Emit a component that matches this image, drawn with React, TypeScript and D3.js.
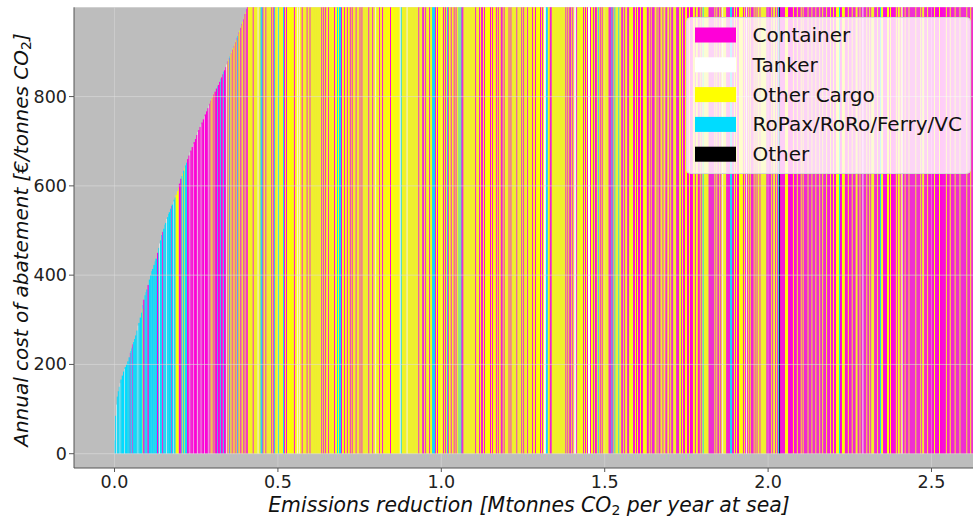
import React from "react";
import * as d3 from "d3";

// ---- Categories / legend ----
const shipCategories = ["Container", "Tanker", "Other Cargo", "RoPax/RoRo/Ferry/VC", "Other"];
const categoryCodes = ["M", "W", "Y", "C", "K"];
const categoryColors = ["#ff00d8", "#ffffff", "#ffff00", "#00dcff", "#000000"];

// ---- Axis ticks ----
const xTicks = [0, 0.5, 1.0, 1.5, 2.0, 2.5];
const yTicks = [0, 200, 400, 600, 800];

// ---- Rising part of the cost curve (bars under 1000 €/t) ----
// one letter per bar (ship type code), widths in kt CO2, costs in €/t CO2
const rampTypes =
  "CCWCCCWCCC" +
  "WCCCCMCCCM" +
  "CCCCWCCCYC" +
  "MCCCMCCCCC" +
  "CCMCWCCMCC" +
  "CWCCCCMCWC" +
  "CYYYMMCYCY" +
  "CCMMWMMWMM" +
  "MWMMWMMWMM" +
  "MWMYMYMYMY" +
  "MMCMMCMMCM" +
  "MWYMYMCYMY" +
  "MYMYMYMCYM" +
  "YMYMYMYMYM";

const rampWidthKt = [
  2, 3, 2, 3, 3, 3, 2, 4, 4, 3,
  2, 4, 4, 4, 4, 2, 2, 2, 2, 2,
  3, 3, 4, 4, 2, 4, 4, 3, 2, 2,
  4, 3, 2, 4, 4, 4, 4, 2, 4, 4,
  2, 5, 4, 3, 2, 4, 3, 3, 4, 2,
  4, 2, 3, 2, 4, 3, 2, 4, 2, 3,
  3, 4, 4, 2, 4, 4, 3, 2, 4, 2,
  3, 3, 4, 4, 2, 4, 4, 2, 4, 4,
  4, 2, 4, 4, 2, 4, 4, 2, 4, 4,
  4, 2, 2, 2, 2, 2, 2, 2, 2, 2,
  4, 4, 2, 4, 4, 2, 4, 3, 2, 4,
  3, 2, 2, 2, 2, 2, 2, 2, 2, 2,
  2, 3, 2, 2, 2, 3, 2, 2, 2, 2,
  3, 2, 2, 2, 3, 2, 2, 3, 2, 2,
];

const rampCost = [
  30, 85, 110, 128, 140, 150, 158, 166, 175, 184,
  190, 194, 200, 207, 216, 226, 230, 236, 240, 245,
  250, 257, 265, 276, 287, 293, 305, 316, 325, 333,
  345, 355, 362, 368, 378, 390, 400, 409, 414, 423,
  431, 437, 450, 461, 471, 478, 490, 497, 504, 513,
  517, 526, 530, 537, 541, 549, 555, 558, 565, 569,
  574, 580, 588, 596, 605, 616, 622, 628, 634, 641,
  646, 652, 660, 668, 675, 679, 687, 694, 698, 705,
  714, 721, 725, 732, 738, 742, 749, 756, 760, 767,
  774, 780, 784, 788, 791, 795, 798, 802, 805, 808,
  811, 818, 823, 826, 833, 840, 843, 850, 856, 859,
  866, 872, 875, 879, 883, 886, 890, 894, 897, 901,
  905, 909, 914, 918, 922, 926, 932, 936, 940, 944,
  948, 954, 959, 963, 968, 973, 980, 985, 990, 996,
];

// ---- Tail of the curve (costs above the 1000 €/t axis limit) ----
// one letter per ship, each ship ~3 kt CO2
const tailWidthKt = 3;
const tailTypes =
  // 0.40 - 0.86
  "MYYYYYMYYY" + "YWYYCCMYYM" + "YYYYYMYMCY" + "YYCYYYYCMY" + "MYYYYYYYMY" +
  "YWYWYYMYYY" + "YMYYMYYYYY" + "YYYYYYMYMY" + "MYYMYYYYYM" + "YYCYCCMYYM" +
  "YYMYYMYMYY" + "YMYYYMYMYY" + "YYYYMYYYMY" + "YWYYYMYYMY" + "YYYYYYMYYY" +
  // 0.86 - 1.30
  "YYYYYYWCYY" + "YYYWYYYYYY" + "YYYYYMYYYM" + "MYMYYYMYYC" + "CCMYMYYYYY" +
  "MYMYCMYYMY" + "YMYMYYCYCM" + "MYYYYYYYYY" + "YYYMYYYMYM" + "MYMYYYYYMY" +
  "MYYYMYMYYM" + "MYMYYYYMYM" + "YYYYYMYYYY" + "MYMYYYMYYY" + "YMYYMYYYYM" +
  // 1.30 - 1.75
  "YMYWWCCYYM" + "MYYYYYYYYY" + "YYYYYMYMYM" + "MYMYWWMYYY" + "YYYMYMYMWW" +
  "MYYMYMMYCY" + "MYMYYYYYYM" + "MMCMYCYYYC" + "YYMMYMYYMM" + "YYYYMMYMYM" +
  "MYMMYYYYMM" + "YMYMMMYYMY" + "MMYYMYYMMY" + "YMYMMYYYMM" + "MYYMYMMYYM" +
  // 1.75 - 2.20
  "MYMMMYYMYY" + "MMYMYCYYYY" + "YMMMMMMYMY" + "MMYMYWYYYM" + "MMMCCMMYMY" +
  "MMYYYYMYMW" + "MYMYMMMYMY" + "MYYMYYYYYY" + "MMMMMYMYYM" + "YMCKMMMMMY" +
  "YYMMMMMYMM" + "MYMMMYMYMM" + "MMYMMMYMMM" + "YMMMYMMYMM" + "MYMMMYMMYM" +
  // 2.20 - 2.65
  "MYYYCMMYYY" + "MMMYMMMYMM" + "MYYMMYMMWM" + "MMYMMYMYYY" + "MMMYMMCYYM" +
  "MMMYYMYMMM" + "MMYMYYMYWM" + "MYMMMYMMMM" + "MMYMMMMYMY" + "YMMMYMMMMM" +
  "MYMMMMYMMM" + "MMMYMMMYMM" + "MMYMMMMYMM" + "MMMMYMMMYM" + "MMMYMMMMMM";

// ---- Layout ----
const W = 973;
const H = 518;
const plotLeft = 74;
const plotRight = 973;
const plotTop = 7.3;
const plotBottom = 468;
const xDomain = [-0.124, 2.627];
const yDomain = [-32, 1000];

const colorOf = (code: string) => categoryColors[Math.max(0, categoryCodes.indexOf(code))];

export default function App() {
  const x = d3.scaleLinear().domain(xDomain).range([plotLeft, plotRight]);
  const y = d3.scaleLinear().domain(yDomain).range([plotBottom, plotTop]);

  type Bar = { x0: number; w: number; cost: number; type: string };
  const bars: Bar[] = [];
  let cum = 0;
  for (let i = 0; i < rampTypes.length; i++) {
    const w = rampWidthKt[i] / 1000;
    bars.push({ x0: cum, w, cost: rampCost[i], type: rampTypes[i] });
    cum += w;
  }
  for (let i = 0; i < tailTypes.length; i++) {
    const w = tailWidthKt / 1000;
    bars.push({ x0: cum, w, cost: yDomain[1] + 50, type: tailTypes[i] });
    cum += w;
  }

  const font = "DejaVu Sans, sans-serif";
  const legendRowY = (i: number) => 35 + i * 29.8;

  return (
    <svg
      width={W}
      height={H}
      style={{ position: "absolute", left: 0, top: 0, background: "#fff" }}
      fontFamily={font}
    >
      <defs>
        <clipPath id="plotClip">
          <rect x={plotLeft} y={plotTop} width={plotRight - plotLeft} height={plotBottom - plotTop} />
        </clipPath>
      </defs>
      <rect x={plotLeft} y={plotTop} width={plotRight - plotLeft} height={plotBottom - plotTop} fill="#bdbdbd" />
      <g clipPath="url(#plotClip)">
        {bars.map((b, i) => {
          const x0 = x(b.x0);
          const x1 = x(b.x0 + b.w);
          const yt = y(Math.min(b.cost, yDomain[1] + 20));
          return (
            <rect
              key={i}
              x={x0}
              y={yt}
              width={x1 - x0}
              height={y(0) - yt}
              fill={colorOf(b.type)}
            />
          );
        })}
        {yTicks.map((t) => (
          <line key={"gy" + t} x1={plotLeft} x2={plotRight} y1={y(t)} y2={y(t)} stroke="#e0e0e0" strokeOpacity={0.55} strokeWidth={1} />
        ))}
        {xTicks.map((t) => (
          <line key={"gx" + t} x1={x(t)} x2={x(t)} y1={plotTop} y2={plotBottom} stroke="#e0e0e0" strokeOpacity={0.4} strokeWidth={1} />
        ))}
      </g>
      {/* spines */}
      <line x1={plotLeft} x2={plotLeft} y1={plotTop} y2={plotBottom} stroke="#555" strokeWidth={1} />
      <line x1={plotLeft} x2={plotRight} y1={plotBottom} y2={plotBottom} stroke="#555" strokeWidth={1} />
      {/* y ticks */}
      {yTicks.map((t) => (
        <g key={"yt" + t}>
          <line x1={plotLeft - 5} x2={plotLeft} y1={y(t)} y2={y(t)} stroke="#555" />
          <text x={67} y={y(t)} textAnchor="end" dominantBaseline="central" fontSize={17.5} fill="#222">
            {d3.format("d")(t)}
          </text>
        </g>
      ))}
      {/* x ticks */}
      {xTicks.map((t) => (
        <g key={"xt" + t}>
          <line x1={x(t)} x2={x(t)} y1={plotBottom} y2={plotBottom + 4} stroke="#555" />
          <text x={x(t)} y={482} textAnchor="middle" dominantBaseline="central" fontSize={17.5} fill="#222">
            {d3.format(".1f")(t)}
          </text>
        </g>
      ))}
      {/* axis labels */}
      <text x={529} y={505} textAnchor="middle" dominantBaseline="central" fontSize={20.4} fontStyle="italic" fill="#111">
        Emissions reduction [Mtonnes CO
        <tspan fontSize={14} dy={5} fontStyle="normal">2</tspan>
        <tspan dy={-5}> per year at sea]</tspan>
      </text>
      <text
        transform={`translate(21,240) rotate(-90)`}
        textAnchor="middle"
        dominantBaseline="central"
        fontSize={20}
        fontStyle="italic"
        fill="#111"
      >
        Annual cost of abatement [€/tonnes CO
        <tspan fontSize={14} dy={5} fontStyle="normal">2</tspan>
        <tspan dy={-5}>]</tspan>
      </text>
      {/* legend */}
      <rect x={686.5} y={17.5} width={284} height={156} rx={4} fill="#ffffff" fillOpacity={0.8} stroke="#d8d8d8" />
      {shipCategories.map((name, i) => (
        <g key={name}>
          <rect x={695} y={legendRowY(i) - 7.5} width={41} height={15} fill={categoryColors[i]} />
          <text x={752.5} y={legendRowY(i)} dominantBaseline="central" fontSize={20} fill="#111">
            {name}
          </text>
        </g>
      ))}
    </svg>
  );
}
